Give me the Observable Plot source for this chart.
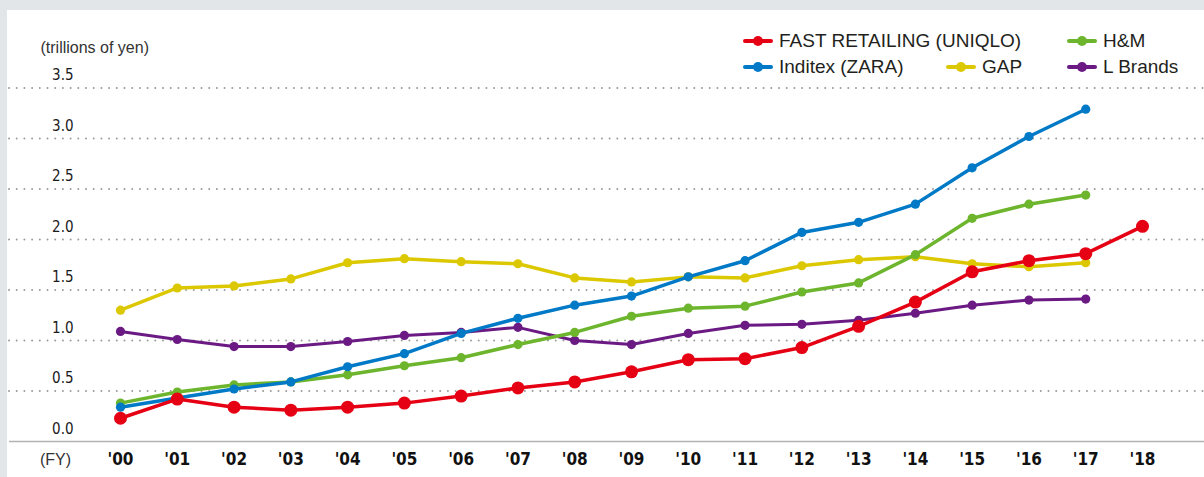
<!DOCTYPE html>
<html>
<head>
<meta charset="utf-8">
<script src="https://cdn.jsdelivr.net/npm/d3@7"></script>
<script src="https://cdn.jsdelivr.net/npm/@observablehq/plot@0.6"></script>
<style>
  body { margin:0; background:#e3e6e9; width:1204px; height:477px; overflow:hidden; position:relative; font-family:"Liberation Sans", Arial, sans-serif; }
  #panel { position:absolute; left:7px; top:10px; width:1197px; height:467px; background:#fff; }
  #legend { position:absolute; left:743px; top:28px; display:grid; grid-template-columns:203px 121px auto; grid-auto-rows:26px; font-size:19px; color:#231f20; }
  .item { display:flex; align-items:center; white-space:nowrap; }
  .item svg { margin-right:6px; flex:none; }
  g[aria-label="x-axis tick label"], g[aria-label="y-axis tick label"] { font-stretch: condensed; }
</style>
</head>
<body>
<div id="panel"></div>
<div id="legend"></div>
<script>
const years = [2000,2001,2002,2003,2004,2005,2006,2007,2008,2009,2010,2011,2012,2013,2014,2015,2016,2017,2018];
const yTicks = [0,0.5,1.0,1.5,2.0,2.5,3.0,3.5];

const seriesNames = ["GAP","L Brands","H&M","Inditex (ZARA)","FAST RETAILING (UNIQLO)"];
const seriesColors = ["#dcc800","#6b1a84","#6cb52d","#0079c6","#e60014"];

const uniqlo  = [0.23,0.42,0.34,0.31,0.34,0.38,0.45,0.53,0.59,0.69,0.81,0.82,0.93,1.14,1.38,1.68,1.79,1.86,2.13];
const inditex = [0.34,0.43,0.52,0.59,0.74,0.87,1.07,1.22,1.35,1.44,1.63,1.79,2.07,2.17,2.35,2.71,3.02,3.29];
const hm      = [0.38,0.49,0.56,0.59,0.66,0.75,0.83,0.96,1.08,1.24,1.32,1.34,1.48,1.57,1.85,2.21,2.35,2.44];
const gap     = [1.30,1.52,1.54,1.61,1.77,1.81,1.78,1.76,1.62,1.58,1.63,1.62,1.74,1.80,1.83,1.76,1.73,1.77];
const lbrands = [1.09,1.01,0.94,0.94,0.99,1.05,1.08,1.13,1.00,0.96,1.07,1.15,1.16,1.20,1.27,1.35,1.40,1.41];

const seriesValues = [gap, lbrands, hm, inditex, uniqlo];

const rows = [];
seriesNames.forEach((name, i) => {
  seriesValues[i].forEach((v, j) => rows.push({series:name, year:years[j], value:v}));
});

const W = 1197, H = 467;
const mL = 113, mR = 62, mT = 77.5, mB = 36;
const condensed = "'DejaVu Sans Condensed', 'DejaVu Sans', sans-serif";
const yearFmt = d => "'" + String(d).slice(2);

const lineMarks = [];
seriesNames.forEach((name, i) => {
  const data = rows.filter(d => d.series === name);
  const big = name.startsWith("FAST");
  lineMarks.push(Plot.line(data, {x:"year", y:"value", stroke:seriesColors[i], strokeWidth: name === "L Brands" ? 3 : 3.5, strokeLinejoin:"round"}));
  lineMarks.push(Plot.dot(data, {x:"year", y:"value", fill:seriesColors[i], r: big ? 6.5 : 4.6, stroke:"none"}));
});

const chart = Plot.plot({
  width: W, height: H,
  marginLeft: mL, marginRight: mR, marginTop: mT, marginBottom: mB,
  x: {domain:[2000,2018], ticks: years, tickFormat: yearFmt},
  y: {domain:[0,3.5], ticks: yTicks},
  style: {background:"transparent", overflow:"visible"},
  marks: [
    Plot.ruleY(yTicks.filter(d => d > 0), {stroke:"#9b9b9b", strokeWidth:2, strokeDasharray:"0 7.7", strokeLinecap:"round", insetLeft:-(mL-2), insetRight:-mR}),
    Plot.ruleY([0], {stroke:"#b3b3b3", strokeWidth:1.6, insetLeft:-(mL-2), insetRight:-mR}),
    Plot.axisY(yTicks, {tickSize:0, tickPadding:47, dy:-12.5, tickFormat:d3.format(".1f"), label:null, fontSize:15, fontFamily:condensed, fill:"#1a1a1a"}),
    Plot.axisX(years, {tickSize:0, tickPadding:11, tickFormat: yearFmt, label:null, fontSize:17, fontWeight:"bold", fontFamily:condensed, fill:"#111"}),
    Plot.text(["(trillions of yen)"], {frameAnchor:"top-left", lineAnchor:"middle", dx:-80, dy:-40.5, textAnchor:"start", fontSize:16, fontFamily:"'Liberation Sans', Arial, sans-serif", fill:"#333"}),
    Plot.text(["(FY)"], {frameAnchor:"bottom-left", lineAnchor:"middle", dx:-65, dy:18, textAnchor:"middle", fontSize:16, fontFamily:"'Liberation Sans', Arial, sans-serif", fill:"#333"}),
    ...lineMarks
  ]
});
document.getElementById("panel").appendChild(chart);

// Legend
const legendOrder = [
  {name:"FAST RETAILING (UNIQLO)", col:"1 / span 2", row:1},
  {name:"H&M", col:"3", row:1},
  {name:"Inditex (ZARA)", col:"1", row:2},
  {name:"GAP", col:"2", row:2},
  {name:"L Brands", col:"3", row:2}
];
const legend = document.getElementById("legend");
legendOrder.forEach(it => {
  const c = seriesColors[seriesNames.indexOf(it.name)];
  const div = document.createElement("div");
  div.className = "item";
  div.style.gridColumn = it.col;
  div.style.gridRow = it.row;
  div.innerHTML = `<svg width="30" height="12"><line x1="2" x2="28" y1="6" y2="6" stroke="${c}" stroke-width="4" stroke-linecap="round"/><circle cx="15" cy="6" r="5" fill="${c}"/></svg><span></span>`;
  div.querySelector("span").textContent = it.name;
  legend.appendChild(div);
});
</script>
</body>
</html>
